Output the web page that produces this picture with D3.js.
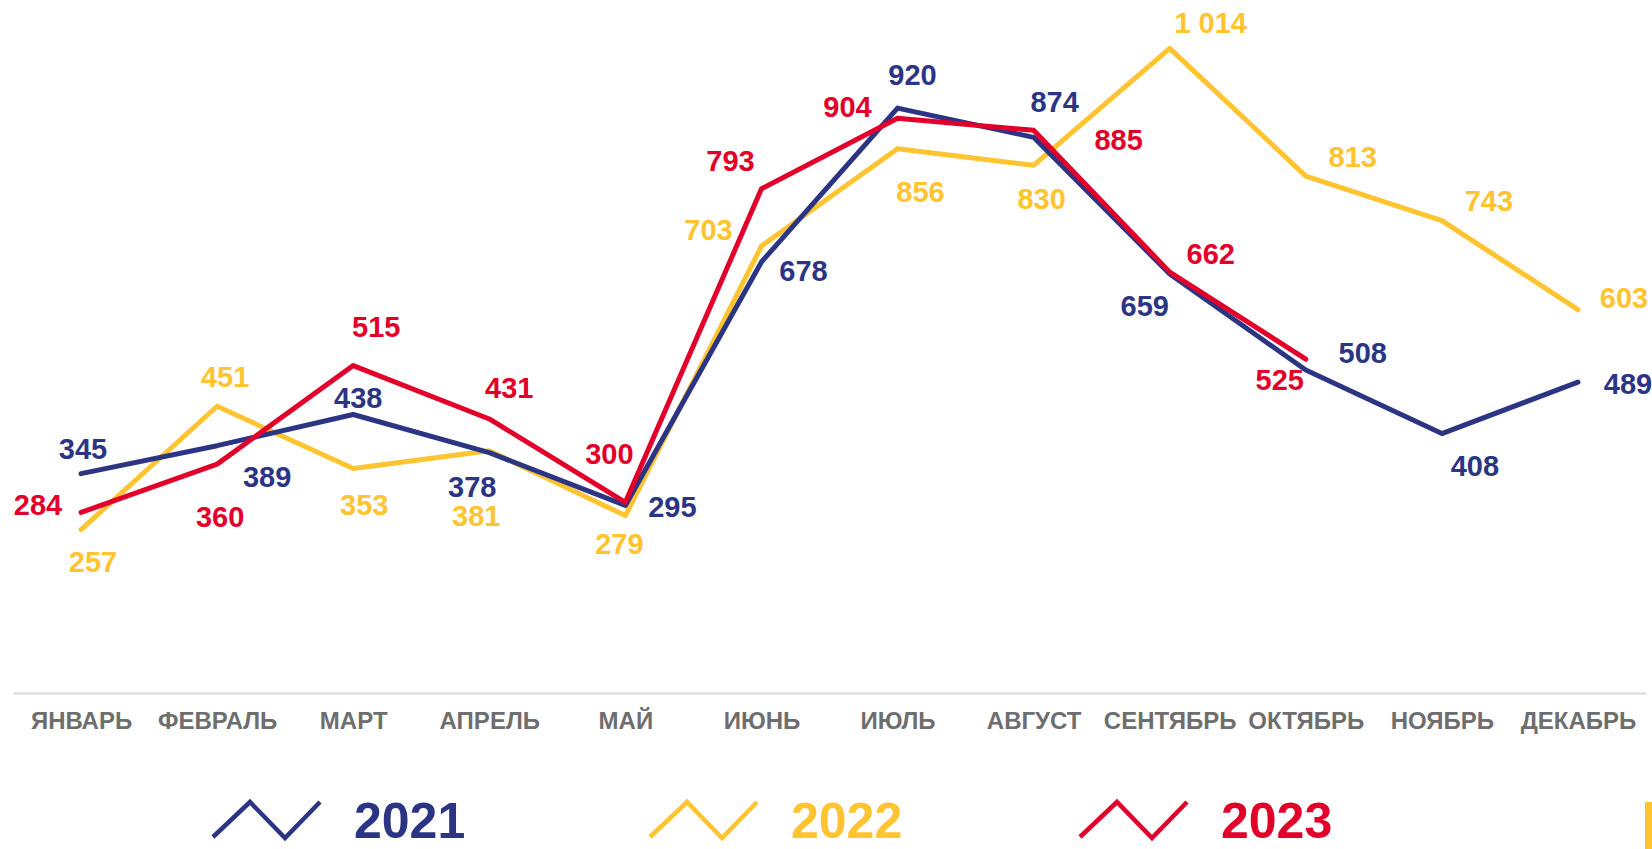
<!DOCTYPE html>
<html>
<head>
<meta charset="utf-8">
<script src="https://cdn.jsdelivr.net/npm/d3@7/dist/d3.min.js"></script>
<style>
  body { margin: 0; background: #fff; }
  text { font-family: "Liberation Sans", Arial, sans-serif; font-weight: bold; }
</style>
</head>
<body>
<script>
// months + values per year
const months = ["ЯНВАРЬ", "ФЕВРАЛЬ", "МАРТ", "АПРЕЛЬ", "МАЙ", "ИЮНЬ", "ИЮЛЬ", "АВГУСТ", "СЕНТЯБРЬ", "ОКТЯБРЬ", "НОЯБРЬ", "ДЕКАБРЬ"];
const years = ["2021", "2022", "2023"];
const v2021 = [345, 389, 438, 378, 295, 678, 920, 874, 659, 508, 408, 489];
const v2022 = [257, 451, 353, 381, 279, 703, 856, 830, 1014, 813, 743, 603];
const v2023 = [284, 360, 515, 431, 300, 793, 904, 885, 662, 525];

// label nudges (px) so numbers sit like in the original
const off2021 = [[2,-25],[50,31],[5,-17],[-17,34],[47,1],[42,9],[15,-33],[21,-35],[-25,32],[57,-17],[33,32],[50,2]];
const off2022 = [[12,32],[8,-29],[11,36],[-13,65],[-6,28],[-53,-16],[23,43],[8,34],[41,-25],[47,-19],[47,-20],[46,-12]];
const off2023 = [[-43,-8],[3,53],[23,-39],[20,-31],[-16,-48],[-31,-28],[-50,-11],[85,10],[41,-18],[-26,21]];

const colors = { "2021": "#2B3584", "2022": "#FFC430", "2023": "#E2002B" };

const w = 1652, h = 849;
const svg = d3.select("body").append("svg").attr("width", w).attr("height", h);

const x = d3.scalePoint().domain(months).range([13, 1646]).padding(0.5);
const y = d3.scaleLinear().domain([0, 1090]).range([693, 0]);

// axis
const xAxis = d3.axisBottom(x).tickSize(0).tickSizeOuter(0).tickPadding(19);
const gx = svg.append("g").attr("transform", "translate(0,693)").call(xAxis);
gx.select(".domain").attr("stroke", "#D9D9D9").attr("stroke-width", 2);
gx.selectAll("text").attr("fill", "#6E6E6E").style("font-size", "24px")
  .style("font-family", '"Liberation Sans", Arial, sans-serif').style("font-weight", "bold");

const series = [
  { key: "2022", vals: v2022, off: off2022 },
  { key: "2021", vals: v2021, off: off2021 },
  { key: "2023", vals: v2023, off: off2023 }
];

const line = d3.line().x((d, i) => x(months[i])).y(d => y(d));

series.forEach(s => {
  svg.append("path")
    .datum(s.vals)
    .attr("d", line)
    .attr("fill", "none")
    .attr("stroke", colors[s.key])
    .attr("stroke-width", 5)
    .attr("stroke-linejoin", "round")
    .attr("stroke-linecap", "round");
});

const fmt = v => v >= 1000 ? d3.format(",")(v).replace(",", " ") : String(v);

series.forEach(s => {
  svg.append("g").selectAll("text")
    .data(s.vals)
    .enter()
    .append("text")
    .attr("x", (d, i) => x(months[i]) + s.off[i][0])
    .attr("y", (d, i) => y(d) + s.off[i][1])
    .attr("dy", "0.35em")
    .attr("text-anchor", "middle")
    .attr("fill", colors[s.key])
    .style("font-size", "29px")
    .text(d => fmt(d));
});

// legend
const legendX = [213, 650, 1080];
const leg = svg.append("g");
years.forEach((yr, i) => {
  const x0 = legendX[i];
  leg.append("path")
    .attr("d", d3.line()([[x0, 837], [x0 + 37, 802], [x0 + 72, 838], [x0 + 107, 802]]))
    .attr("fill", "none")
    .attr("stroke", colors[yr])
    .attr("stroke-width", 4.5);
  leg.append("text")
    .attr("x", x0 + 141)
    .attr("y", 838)
    .attr("fill", colors[yr])
    .style("font-size", "50px")
    .text(yr);
});

// cut-off bar at the right edge
svg.append("rect").attr("x", 1645).attr("y", 802).attr("width", 7).attr("height", 47).attr("fill", "#FFC430");
</script>
</body>
</html>
